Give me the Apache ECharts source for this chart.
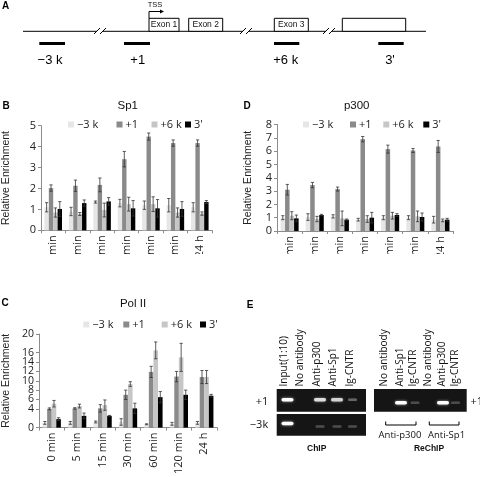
<!DOCTYPE html>
<html><head><meta charset="utf-8">
<script src="https://cdn.jsdelivr.net/npm/echarts@6/dist/echarts.min.js"></script>
<style>html,body{margin:0;padding:0;background:#fff}#c{width:480px;height:477px}</style>
</head><body><div id="c"></div>
<script>
// ---------- DATA ----------
const categories = ['0 min', '5 min', '15 min', '30 min', '60 min', '120 min', '24 h'];
const seriesNames = ['−3 k', '+1', '+6 k', "3'"];
const yTitle = 'Relative Enrichment';

// Sp1 (panel B)
const sp1_m3k = [1.1, 0.9, 1.35, 1.3, 1.2, 1.2, 1.1];
const sp1_p1  = [2.02, 2.13, 2.17, 3.4, 4.48, 4.17, 4.17];
const sp1_p6k = [0.85, 0.78, 0.97, 1.25, 1.25, 0.85, 0.8];
const sp1_3p  = [1.02, 1.3, 1.38, 1.05, 1.05, 1.02, 1.35];
const sp1_m3k_err = [0.22, 0.2, 0.05, 0.18, 0.2, 0.32, 0.22];
const sp1_p1_err  = [0.15, 0.27, 0.33, 0.37, 0.17, 0.15, 0.15];
const sp1_p6k_err = [0.22, 0.07, 0.33, 0.33, 0.35, 0.22, 0.08];
const sp1_3p_err  = [0.35, 0.15, 0.18, 0.37, 0.42, 0.35, 0.07];

// p300 (panel D)
const p300_m3k = [1.0, 1.05, 1.1, 0.85, 1.0, 1.0, 0.85];
const p300_p1  = [3.1, 3.45, 3.15, 6.9, 6.15, 6.05, 6.35];
const p300_p6k = [1.15, 0.9, 0.95, 0.9, 1.15, 1.1, 0.8];
const p300_3p  = [0.95, 1.2, 0.85, 1.0, 1.2, 1.05, 0.85];
const p300_m3k_err = [0.15, 0.25, 0.12, 0.1, 0.15, 0.15, 0.25];
const p300_p1_err  = [0.4, 0.2, 0.15, 0.2, 0.3, 0.15, 0.45];
const p300_p6k_err = [0.3, 0.2, 0.55, 0.25, 0.25, 0.4, 0.1];
const p300_3p_err  = [0.25, 0.05, 0.05, 0.4, 0.1, 0.3, 0.1];

// Pol II (panel C)
const pol_m3k = [1.0, 1.0, 1.2, 1.2, 0.7, 0.8, 1.0];
const pol_p1  = [4.0, 4.1, 4.1, 7.0, 11.9, 10.9, 10.8];
const pol_p6k = [5.1, 4.6, 4.8, 9.3, 16.5, 15.0, 10.8];
const pol_3p  = [1.8, 2.5, 2.5, 4.1, 6.5, 7.0, 6.8];
const pol_m3k_err = [0.3, 0.3, 0.2, 0.7, 0.1, 0.3, 0.3];
const pol_p1_err  = [0.2, 0.15, 0.8, 1.0, 1.2, 1.1, 1.4];
const pol_p6k_err = [0.7, 0.4, 1.1, 0.5, 1.8, 3.0, 1.4];
const pol_3p_err  = [0.3, 0.6, 0.1, 1.1, 1.2, 1.0, 0.3];

// Panel A labels
const probeLabels = ['−3 k', '+1', '+6 k', "3'"];
const exonLabels = ['Exon 1', 'Exon 2', 'Exon 3', ''];
// Panel E labels
const chipLanes = ['Input(1:10)', 'No antibody', 'Anti-p300', 'Anti-Sp1', 'Ig-CNTR'];
const rechipLanes = ['No antibody', 'Anti-Sp1', 'Ig-CNTR', 'No antibody', 'Anti-p300', 'Ig-CNTR'];
const chipBandPlus1 = [1.0, 0, 0.85, 0.8, 0.3];
const chipBandM3k = [1.0, 0, 0.18, 0.18, 0.18];
const rechipBand = [0, 1.0, 0.18, 0, 1.0, 0.18];

// ---------- LAYOUT ----------
const colors = ['#e6e6e6', '#8a8a8a', '#c6c6c6', '#000000'];
const GAP = 0.28;
const panels = [
  { letter: 'B', title: 'Sp1', max: 5, interval: 1, fs: 11,
    vals: [sp1_m3k, sp1_p1, sp1_p6k, sp1_3p], errs: [sp1_m3k_err, sp1_p1_err, sp1_p6k_err, sp1_3p_err],
    grid: { left: 39, top: 125.7, width: 173, height: 104.6 }, nameGap: 29,
    letterPos: [6, 106], titlePos: [127.7, 105.5], legX: [68, 116.5, 151.5, 185], legY: 125 },
  { letter: 'D', title: 'p300', max: 8, interval: 1, fs: 11,
    vals: [p300_m3k, p300_p1, p300_p6k, p300_3p], errs: [p300_m3k_err, p300_p1_err, p300_p6k_err, p300_3p_err],
    grid: { left: 277, top: 124.5, width: 176, height: 106.5 }, nameGap: 23,
    letterPos: [247, 106], titlePos: [356.7, 105.5], legX: [303, 350, 383.3, 423.3], legY: 125 },
  { letter: 'C', title: 'Pol II', max: 20, interval: 2, fs: 10.5,
    vals: [pol_m3k, pol_p1, pol_p6k, pol_3p], errs: [pol_m3k_err, pol_p1_err, pol_p6k_err, pol_3p_err],
    grid: { left: 38, top: 334, width: 179, height: 102 }, nameGap: 27,
    letterPos: [5, 303.5], titlePos: [133, 304], legX: [83.3, 123.3, 161.7, 200], legY: 325 }
];

const FONT_NUM = '"Open Sans", sans-serif';
const FONT_ARIAL = '"Liberation Sans", Arial, sans-serif';

const grids = [], xAxes = [], yAxes = [], series = [], legends = [], graphics = [];

panels.forEach((p, gi) => {
  grids.push(Object.assign({ containLabel: false }, p.grid));
  xAxes.push({ type: 'category', gridIndex: gi, data: categories, boundaryGap: true,
    axisLine: { lineStyle: { color: '#8c8c8c', width: 1 } },
    axisTick: { show: true, length: 3, lineStyle: { color: '#8c8c8c' } },
    axisLabel: { rotate: 90, margin: 5, fontFamily: FONT_NUM, fontSize: 11, color: '#222', interval: 0 } });
  yAxes.push({ type: 'value', gridIndex: gi, min: 0, max: p.max, interval: p.interval,
    name: yTitle, nameLocation: 'middle', nameGap: p.nameGap,
    nameTextStyle: { fontFamily: FONT_ARIAL, fontSize: 10.5, color: '#222' },
    axisLine: { show: true, lineStyle: { color: '#8c8c8c', width: 1 } },
    axisTick: { show: true, length: 3, lineStyle: { color: '#8c8c8c' } },
    splitLine: { show: false },
    axisLabel: { margin: 5, fontFamily: FONT_NUM, fontSize: p.fs, color: '#222',
      showMinLabel: true, showMaxLabel: true, hideOverlap: false } });
  p.vals.forEach((v, si) => {
    series.push({ type: 'bar', name: seriesNames[si], xAxisIndex: gi, yAxisIndex: gi, data: v,
      barGap: '0%', barCategoryGap: (GAP * 100) + '%', itemStyle: { color: colors[si] },
      silent: true, animation: false });
  });
  const ed = [];
  for (let s = 0; s < 4; s++) for (let c = 0; c < categories.length; c++) ed.push([c, p.vals[s][c], p.errs[s][c], s]);
  series.push({ type: 'custom', name: 'err' + gi, xAxisIndex: gi, yAxisIndex: gi, z: 5, silent: true, animation: false,
    encode: { x: 0, y: 1 }, data: ed,
    renderItem: (params, api) => {
      const c = api.value(0), v = api.value(1), e = api.value(2), s = api.value(3);
      const band = api.size([1, 0])[0];
      const bw = band * (1 - GAP) / 4;
      const x = api.coord([c, v])[0] + (s - 1.5) * bw;
      const yt = api.coord([c, v + e])[1], yb = api.coord([c, Math.max(0, v - e)])[1];
      const cap = 1.6, st = { stroke: '#333', lineWidth: 0.8 };
      return { type: 'group', children: [
        { type: 'line', shape: { x1: x, y1: yt, x2: x, y2: yb }, style: st },
        { type: 'line', shape: { x1: x - cap, y1: yt, x2: x + cap, y2: yt }, style: st },
        { type: 'line', shape: { x1: x - cap, y1: yb, x2: x + cap, y2: yb }, style: st }
      ] };
    } });
  seriesNames.forEach((n, si) => {
    legends.push({ data: [n], left: p.legX[si], top: p.legY - 6, padding: 0, itemWidth: 6, itemHeight: 6,
      itemGap: 0, icon: 'rect', selectedMode: false,
      textStyle: { fontFamily: FONT_NUM, fontSize: 11, color: '#222', padding: [0, 0, 0, -2] } });
  });
  graphics.push({ type: 'text', x: p.letterPos[0], y: p.letterPos[1], z: 50,
    style: { text: p.letter, font: 'bold 10px ' + FONT_ARIAL, fill: '#000', align: 'center', verticalAlign: 'middle' } });
  graphics.push({ type: 'text', x: p.titlePos[0], y: p.titlePos[1], z: 50,
    style: { text: p.title, font: '11.5px ' + FONT_ARIAL, fill: '#111', align: 'center', verticalAlign: 'middle' } });
});

// cover (panels B and D are cropped below the axis labels in the reference)
graphics.push({ type: 'rect', z: 40, shape: { x: 0, y: 254, width: 480, height: 36 }, style: { fill: '#fff' } });

// ---------- Panel A : gene diagram ----------
graphics.push({ type: 'text', x: 5.5, y: 6, z: 50, style: { text: 'A', font: 'bold 10px ' + FONT_ARIAL, fill: '#000', align: 'center', verticalAlign: 'middle' } });
graphics.push({ type: 'line', z: 50, shape: { x1: 23, y1: 31.3, x2: 426, y2: 31.3 }, style: { stroke: '#000', lineWidth: 1 } });
[[94, 28], [240, 28], [323, 28]].forEach(([bx, by]) => {
  graphics.push({ type: 'rect', z: 51, shape: { x: bx + 3, y: 30, width: 6, height: 3 }, style: { fill: '#fff' } });
  graphics.push({ type: 'line', z: 52, shape: { x1: bx, y1: by + 6, x2: bx + 6, y2: by }, style: { stroke: '#000', lineWidth: 1 } });
  graphics.push({ type: 'line', z: 52, shape: { x1: bx + 6, y1: by + 6, x2: bx + 12, y2: by }, style: { stroke: '#000', lineWidth: 1 } });
});
const exonBoxes = [[149, 179], [188.7, 222.7], [274.3, 308.3], [342.3, 405.7]];
exonBoxes.forEach(([x0, x1], i) => {
  graphics.push({ type: 'rect', z: 53, shape: { x: x0, y: 18.3, width: x1 - x0, height: 13 }, style: { fill: '#fff', stroke: '#000', lineWidth: 1 } });
  if (exonLabels[i]) graphics.push({ type: 'text', z: 54, x: (x0 + x1) / 2, y: 25, style: { text: exonLabels[i], font: '8.5px ' + FONT_ARIAL, fill: '#111', align: 'center', verticalAlign: 'middle' } });
});
graphics.push({ type: 'polyline', z: 54, shape: { points: [[149, 18.3], [149, 11.5], [161, 11.5]] }, style: { stroke: '#000', lineWidth: 1, fill: null } });
graphics.push({ type: 'polygon', z: 54, shape: { points: [[164, 11.5], [160, 9.5], [160, 13.5]] }, style: { fill: '#000' } });
graphics.push({ type: 'text', z: 54, x: 155, y: 4.5, style: { text: 'TSS', font: '7.5px ' + FONT_ARIAL, fill: '#111', align: 'center', verticalAlign: 'middle' } });
const probes = [[39.3, 65], [124, 150], [274, 299.3], [378.3, 403.7]];
const probeLabelX = [50, 137.7, 285.7, 390];
probes.forEach(([x0, x1], i) => {
  graphics.push({ type: 'rect', z: 54, shape: { x: x0, y: 42, width: x1 - x0, height: 3 }, style: { fill: '#000' } });
  graphics.push({ type: 'text', z: 54, x: probeLabelX[i], y: 60.5, style: { text: probeLabels[i], font: '13px ' + FONT_ARIAL, fill: '#000', align: 'center', verticalAlign: 'middle' } });
});

// ---------- Panel E : gels ----------
graphics.push({ type: 'text', x: 250, y: 305, z: 50, style: { text: 'E', font: 'bold 10px ' + FONT_ARIAL, fill: '#000', align: 'center', verticalAlign: 'middle' } });
const gelFill = '#151515';
graphics.push({ type: 'rect', z: 50, shape: { x: 276.7, y: 389, width: 89.3, height: 22.7 }, style: { fill: gelFill } });
graphics.push({ type: 'rect', z: 50, shape: { x: 276.7, y: 414, width: 89.3, height: 21.7 }, style: { fill: gelFill } });
graphics.push({ type: 'rect', z: 50, shape: { x: 374, y: 389, width: 92.7, height: 22.7 }, style: { fill: gelFill } });
const chipLaneX = [284.3, 300, 316.7, 333.3, 350];
const chipBandX = [287.5, 303, 320, 337, 352.5];
const rechipLaneX = [384, 400, 413.3, 428.3, 441.7, 455];
const rechipBandX = [387, 401, 415, 430, 443, 455.5];
function band(cx, cy, w, h, a) {
  if (a <= 0) return;
  const g = Math.round(35 + 220 * a);
  graphics.push({ type: 'rect', z: 51, shape: { x: cx - w / 2, y: cy - h / 2, width: w, height: h, r: h / 2 },
    style: { fill: 'rgb(' + g + ',' + g + ',' + g + ')', shadowBlur: 3 * a, shadowColor: 'rgba(255,255,255,' + (0.6 * a) + ')' } });
}
chipBandPlus1.forEach((a, i) => band(chipBandX[i], 399.8, a > 0.5 ? 12 : 9, a > 0.5 ? 3.5 : 2.5, a));
chipBandM3k.forEach((a, i) => band(chipBandX[i], i === 0 ? 423.5 : 426.5, a > 0.5 ? 12 : 9, a > 0.5 ? 3.5 : 2.5, a));
rechipBand.forEach((a, i) => band(rechipBandX[i], 402.7, a > 0.5 ? 12 : 9, a > 0.5 ? 3.5 : 2.5, a));
chipLanes.forEach((t, i) => graphics.push({ type: 'text', z: 52, x: chipLaneX[i], y: 386.5, rotation: Math.PI / 2,
  style: { text: t, font: '10px ' + FONT_NUM, fill: '#111', align: 'left', verticalAlign: 'middle' } }));
rechipLanes.forEach((t, i) => graphics.push({ type: 'text', z: 52, x: rechipLaneX[i], y: 386.5, rotation: Math.PI / 2,
  style: { text: t, font: '10px ' + FONT_NUM, fill: '#111', align: 'left', verticalAlign: 'middle' } }));
graphics.push({ type: 'text', z: 52, x: 262, y: 401.5, style: { text: '+1', font: '11px ' + FONT_NUM, fill: '#111', align: 'center', verticalAlign: 'middle' } });
graphics.push({ type: 'text', z: 52, x: 259, y: 425, style: { text: '−3k', font: '11px ' + FONT_NUM, fill: '#111', align: 'center', verticalAlign: 'middle' } });
graphics.push({ type: 'text', z: 52, x: 470.5, y: 401.5, style: { text: '+1', font: '11px ' + FONT_NUM, fill: '#111', align: 'left', verticalAlign: 'middle' } });
[[385.7, 416, 'Anti-p300', 400], [429.3, 459, 'Anti-Sp1', 446.5]].forEach(([x0, x1, t, tx]) => {
  graphics.push({ type: 'polyline', z: 52, shape: { points: [[x0, 421.5], [x0, 425], [x1, 425], [x1, 421.5]] }, style: { stroke: '#000', lineWidth: 1, fill: null } });
  graphics.push({ type: 'text', z: 52, x: tx, y: 435.7, style: { text: t, font: '9.5px ' + FONT_NUM, fill: '#111', align: 'center', verticalAlign: 'middle' } });
});
graphics.push({ type: 'text', z: 52, x: 316.7, y: 448.5, style: { text: 'ChIP', font: 'bold 8.5px ' + FONT_ARIAL, fill: '#111', align: 'center', verticalAlign: 'middle' } });
graphics.push({ type: 'text', z: 52, x: 429, y: 448.5, style: { text: 'ReChIP', font: 'bold 8.5px ' + FONT_ARIAL, fill: '#111', align: 'center', verticalAlign: 'middle' } });

const chart = echarts.init(document.getElementById('c'), null, { renderer: 'canvas' });
chart.setOption({
  animation: false,
  backgroundColor: '#fff',
  grid: grids, xAxis: xAxes, yAxis: yAxes, series: series, legend: legends,
  graphic: { elements: graphics }
});
</script>
</body></html>
